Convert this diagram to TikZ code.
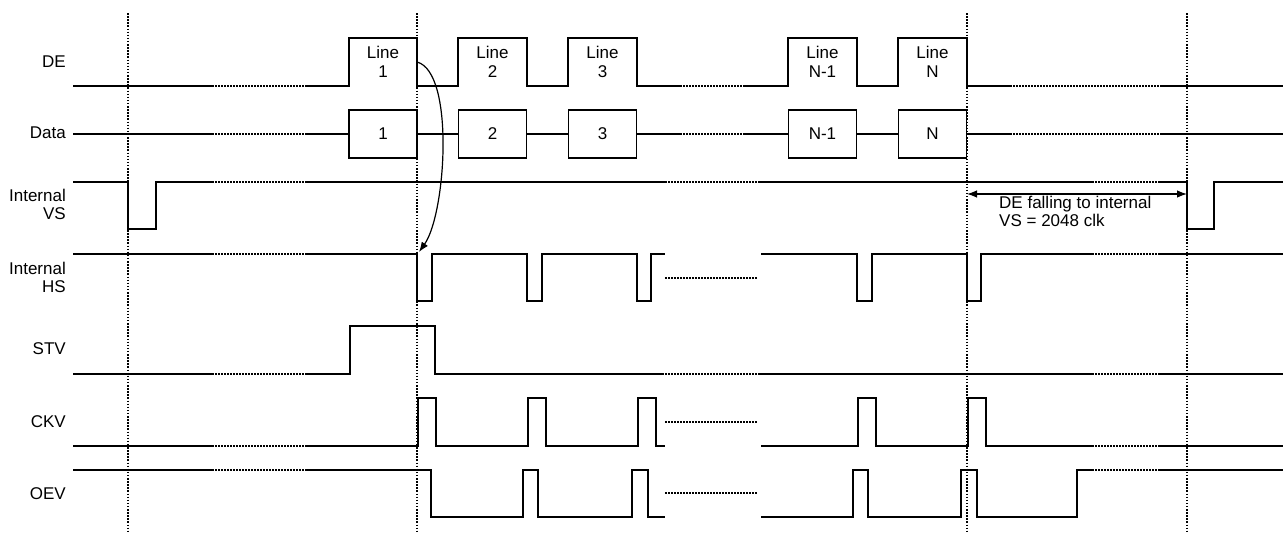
\documentclass[tikz,border=0pt]{standalone}
\usepackage{fontspec}
\setmainfont{Liberation Sans}
\usepackage{tikz}
\usetikzlibrary{arrows.meta, positioning}

\begin{document}
\begin{tikzpicture}[x=1pt, y=-1pt, >={Latex[length=10pt,width=7.5pt]},
    sig/.style={line width=1.3pt, line join=miter},
    gap/.style={line width=1.5pt, dash pattern=on 1.5pt off 1.5pt},
    vgrid/.style={line width=1.3pt, dash pattern=on 1.5pt off 1.6pt},
    lbl/.style={anchor=east, align=right, inner sep=0pt, font=\fontsize{17}{18}\selectfont},
    boxtxt/.style={align=center, inner sep=0pt, font=\fontsize{17}{19}\selectfont},
    dbox/.style={draw, line width=1.3pt, minimum width=68pt, minimum height=48pt, inner sep=0pt, font=\fontsize{17}{19}\selectfont}]
    \useasboundingbox (0,0) rectangle (1287,533);

    % 1. Cac duong gioc dut doc
    \foreach \gx in {128, 417, 967, 1187}
        \draw[vgrid] (\gx,13) -- (\gx,531);

    % 2. Nhan tin hieu
    \node[lbl] (lDE) at (66,62) {DE};
    \node[lbl] (lData) at (66,133) {Data};
    \node[lbl] (lVS) at (66,204) {Internal\\VS};
    \node[lbl] (lHS) at (66,277) {Internal\\HS};
    \node[lbl] (lSTV) at (66,349) {STV};
    \node[lbl] (lCKV) at (66,422) {CKV};
    \node[lbl] (lOEV) at (66,494) {OEV};

    % 3. DE
    \draw[sig] (73,86) -- (212,86);
    \draw[gap] (212,86) -- (307,86);
    \draw[sig] (307,86) -- (349,86) -- (349,38) -- (417,38) -- (417,86) -- (458,86) -- (458,38) -- (527,38)
        -- (527,86) -- (568,86) -- (568,38) -- (637,38) -- (637,86) -- (680,86);
    \draw[gap] (680,86) -- (745,86);
    \draw[sig] (745,86) -- (788,86) -- (788,38) -- (857,38) -- (857,86) -- (898,86) -- (898,38) -- (967,38)
        -- (967,86) -- (1010,86);
    \draw[gap] (1010,86) -- (1160,86);
    \draw[sig] (1160,86) -- (1283,86);
    \foreach \cx/\txt [count=\i] in {383/1, 492.5/2, 602.5/3, 822.5/N-1, 932.5/N}
        \node[boxtxt] (de\i) at (\cx,62) {Line\\\txt};

    % 4. Data
    \foreach \cx/\txt [count=\i] in {383/1, 492.5/2, 602.5/3, 822.5/N-1, 932.5/N}
        \node[dbox] (d\i) at (\cx,134) {\txt};
    \draw[sig] (73,134) -- (212,134);
    \draw[gap] (212,134) -- (307,134);
    \draw[sig] (307,134) -- (d1.west);
    \draw[sig] (d1.east) -- (d2.west);
    \draw[sig] (d2.east) -- (d3.west);
    \draw[sig] (d3.east) -- (680,134);
    \draw[gap] (680,134) -- (745,134);
    \draw[sig] (745,134) -- (d4.west);
    \draw[sig] (d4.east) -- (d5.west);
    \draw[sig] (d5.east) -- (1010,134);
    \draw[gap] (1010,134) -- (1160,134);
    \draw[sig] (1160,134) -- (1283,134);

    % 5. Internal VS
    \draw[sig] (73,182) -- (128,182) -- (128,229) -- (156,229) -- (156,182) -- (212,182);
    \draw[gap] (212,182) -- (307,182);
    \draw[sig] (307,182) -- (665,182);
    \draw[gap] (665,182) -- (760,182);
    \draw[sig] (760,182) -- (1092,182);
    \draw[gap] (1092,182) -- (1158,182);
    \draw[sig] (1158,182) -- (1187,182) -- (1187,229) -- (1214,229) -- (1214,182) -- (1283,182);
    \coordinate (deEnd) at (967,194);
    \coordinate (vsStart) at (1187,194);
    \draw[<->, line width=1.2pt] (deEnd) -- (vsStart);
    \node[anchor=north west, align=left, inner sep=0pt, font=\fontsize{17}{18}\selectfont] (note) at (999,196)
        {DE falling to internal\\VS = 2048 clk};

    % 6. Internal HS
    \draw[sig] (73,254) -- (212,254);
    \draw[gap] (212,254) -- (307,254);
    \draw[sig] (307,254) -- (417,254) -- (417,301) -- (432,301) -- (432,254) -- (527,254) -- (527,301) -- (542,301)
        -- (542,254) -- (637,254) -- (637,301) -- (651,301) -- (651,254) -- (665,254);
    \draw[gap] (665,278) -- (758,278);
    \draw[sig] (761,254) -- (857,254) -- (857,301) -- (872,301) -- (872,254) -- (967,254) -- (967,301) -- (981,301)
        -- (981,254) -- (1092,254);
    \draw[gap] (1092,254) -- (1158,254);
    \draw[sig] (1158,254) -- (1283,254);

    % 7. Mui ten cong tu DE xuong HS
    \coordinate (deFall) at (417,62);
    \coordinate (hsFall) at (419,252);
    \draw[->, line width=1.2pt] (deFall) .. controls (455,72) and (446,214) .. (hsFall);

    % 8. STV
    \draw[sig] (73,374) -- (212,374);
    \draw[gap] (212,374) -- (307,374);
    \draw[sig] (307,374) -- (350,374) -- (350,326) -- (435,326) -- (435,374) -- (662,374);
    \draw[gap] (662,374) -- (760,374);
    \draw[sig] (760,374) -- (1092,374);
    \draw[gap] (1092,374) -- (1158,374);
    \draw[sig] (1158,374) -- (1283,374);

    % 9. CKV
    \draw[sig] (73,446) -- (212,446);
    \draw[gap] (212,446) -- (307,446);
    \draw[sig] (307,446) -- (418,446) -- (418,398) -- (436,398) -- (436,446) -- (528,446) -- (528,398) -- (546,398)
        -- (546,446) -- (638,446) -- (638,398) -- (656,398) -- (656,446) -- (665,446);
    \draw[gap] (665,422) -- (758,422);
    \draw[sig] (761,446) -- (858,446) -- (858,398) -- (876,398) -- (876,446) -- (968,446) -- (968,398) -- (986,398)
        -- (986,446) -- (1092,446);
    \draw[gap] (1092,446) -- (1158,446);
    \draw[sig] (1158,446) -- (1283,446);

    % 10. OEV
    \draw[sig] (73,470) -- (212,470);
    \draw[gap] (212,470) -- (307,470);
    \draw[sig] (307,470) -- (431,470) -- (431,517) -- (523,517) -- (523,470) -- (538,470) -- (538,517) -- (632,517)
        -- (632,470) -- (648,470) -- (648,517) -- (665,517);
    \draw[gap] (665,493) -- (758,493);
    \draw[sig] (761,517) -- (853,517) -- (853,470) -- (868,470) -- (868,517) -- (961,517) -- (961,470) -- (977,470)
        -- (977,517) -- (1077,517) -- (1077,470) -- (1092,470);
    \draw[gap] (1092,470) -- (1158,470);
    \draw[sig] (1158,470) -- (1283,470);
\end{tikzpicture}
\end{document}
